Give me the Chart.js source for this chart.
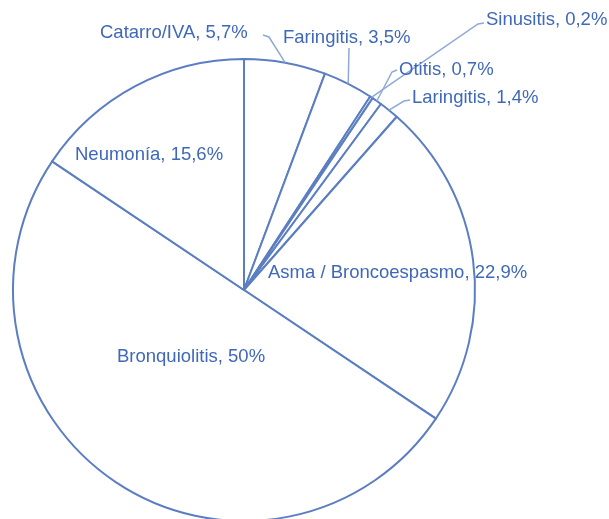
<!DOCTYPE html>
<html><head><meta charset="utf-8">
<script src="https://cdn.jsdelivr.net/npm/chart.js@4"></script>
<style>
html,body{margin:0;padding:0;width:609px;height:519px;overflow:hidden;background:#fff;}
#wrap{position:absolute;left:0;top:0;width:609px;height:580px;}
</style></head><body>
<div id="wrap"><canvas id="c"></canvas></div>
<script>
const categories = ["Catarro/IVA","Faringitis","Sinusitis","Otitis","Laringitis","Asma / Broncoespasmo","Bronquiolitis","Neumonía"];
const values = [5.7, 3.5, 0.2, 0.7, 1.4, 22.9, 50, 15.6];

const TEXT = "#3f68b9", EDGE = "#5b7ec2", LEAD = "#8ea8d8";
// label layout: text left x, text middle y, optional leader elbow points (end computed on arc)
const layout = [
  {x:100, y:33, lead:[[263,35],[269,37]]},
  {x:283, y:38, lead:[[349,48]]},
  {x:486, y:20, lead:[[484,23],[478,24]]},
  {x:399, y:70, lead:[[397,70],[392,72]]},
  {x:412, y:98, lead:[[410,100],[404,101]]},
  {x:268, y:273},
  {x:117, y:357},
  {x:75, y:155}
];

const labelPlugin = {
  id:'labels',
  afterDraw(chart){
    const ctx = chart.ctx;
    const meta = chart.getDatasetMeta(0);
    ctx.save();
    ctx.font = '18.5px "Liberation Sans", Arial, sans-serif';
    ctx.textBaseline = 'middle';
    ctx.textAlign = 'left';
    meta.data.forEach((arc, i) => {
      const L = layout[i];
      const p = arc.getProps(['x','y','startAngle','endAngle','outerRadius'], true);
      const mid = (p.startAngle + p.endAngle)/2;
      const ax = p.x + Math.cos(mid)*p.outerRadius, ay = p.y + Math.sin(mid)*p.outerRadius;
      if (L.lead){
        ctx.strokeStyle = LEAD; ctx.lineWidth = 1.5;
        ctx.beginPath();
        L.lead.forEach((pt,k)=>{ k?ctx.lineTo(pt[0],pt[1]):ctx.moveTo(pt[0],pt[1]); });
        ctx.lineTo(ax, ay);
        ctx.stroke();
      }
      ctx.fillStyle = TEXT;
      const txt = categories[i] + ", " + String(values[i]).replace('.', ',') + "%";
      ctx.fillText(txt, L.x, L.y);
    });
    ctx.restore();
  }
};

new Chart(document.getElementById('c'), {
  type:'pie',
  data:{labels:categories, datasets:[{data:values, backgroundColor:'#ffffff', borderColor:EDGE, borderWidth:2, borderJoinStyle:'round'}]},
  options:{
    responsive:true, maintainAspectRatio:false, animation:false,
    layout:{padding:{left:12, top:58, right:133, bottom:58}},
    plugins:{legend:{display:false}, tooltip:{enabled:false}}
  },
  plugins:[labelPlugin]
});
</script>
</body></html>
